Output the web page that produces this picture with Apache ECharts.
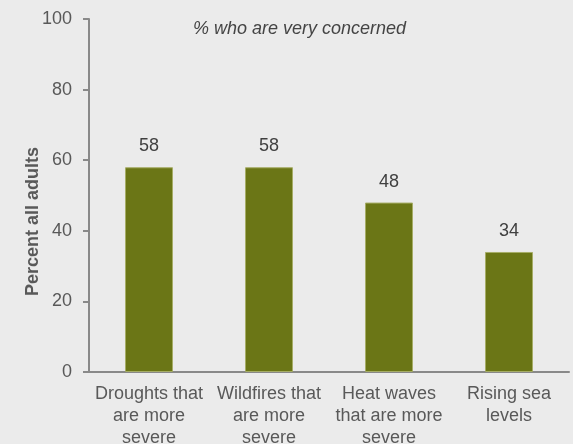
<!DOCTYPE html>
<html><head><meta charset="utf-8">
<script src="https://cdn.jsdelivr.net/npm/echarts@6/dist/echarts.min.js"></script>
<style>html,body{margin:0;padding:0;background:#ebebeb;}#c{width:573px;height:444px;}</style>
</head><body><div id="c"></div>
<script>
var categories = ["Droughts that\nare more\nsevere", "Wildfires that\nare more\nsevere", "Heat waves\nthat are more\nsevere", "Rising sea\nlevels"];
var values = [58, 58, 48, 34];
var titleText = "% who are very concerned";
var yName = "Percent all adults";

var chart = echarts.init(document.getElementById('c'));
chart.setOption({
  backgroundColor: '#ebebeb',
  animation: false,
  title: {text: titleText, left: 188, top: 15,
    textStyle: {fontFamily: 'Liberation Sans', fontSize: 18, fontStyle: 'italic', fontWeight: 'normal', color: '#444'}},
  graphic: [{type: 'text', left: 24, top: 147, rotation: Math.PI/2,
    style: {text: yName, font: 'bold 18px "Liberation Sans"', fill: '#595959'}}],
  grid: {left: 89, right: 4, top: 19, bottom: 72, containLabel: false, outerBoundsMode: 'none'},
  xAxis: {type: 'category', data: categories,
    axisLine: {lineStyle: {color: '#898989', width: 2}},
    axisTick: {length: 5, lineStyle: {color: '#898989', width: 2}},
    axisLabel: {fontFamily: 'Liberation Sans', fontSize: 18, color: '#595959', lineHeight: 22, margin: 11, interval: 0}},
  yAxis: {type: 'value', min: 0, max: 100, interval: 20,
    axisLine: {show: true, lineStyle: {color: '#898989', width: 2}},
    axisTick: {show: true, length: 6, lineStyle: {color: '#898989', width: 2}},
    splitLine: {show: false},
    axisLabel: {fontFamily: 'Liberation Sans', fontSize: 18, color: '#595959', margin: 17}},
  series: [{type: 'bar', data: values, barWidth: 48,
    itemStyle: {color: '#6b7616', borderColor: '#a6ad66', borderWidth: 1},
    label: {show: true, position: 'top', distance: 12, fontFamily: 'Liberation Sans', fontSize: 18, color: '#404040'}}]
});
</script></body></html>
